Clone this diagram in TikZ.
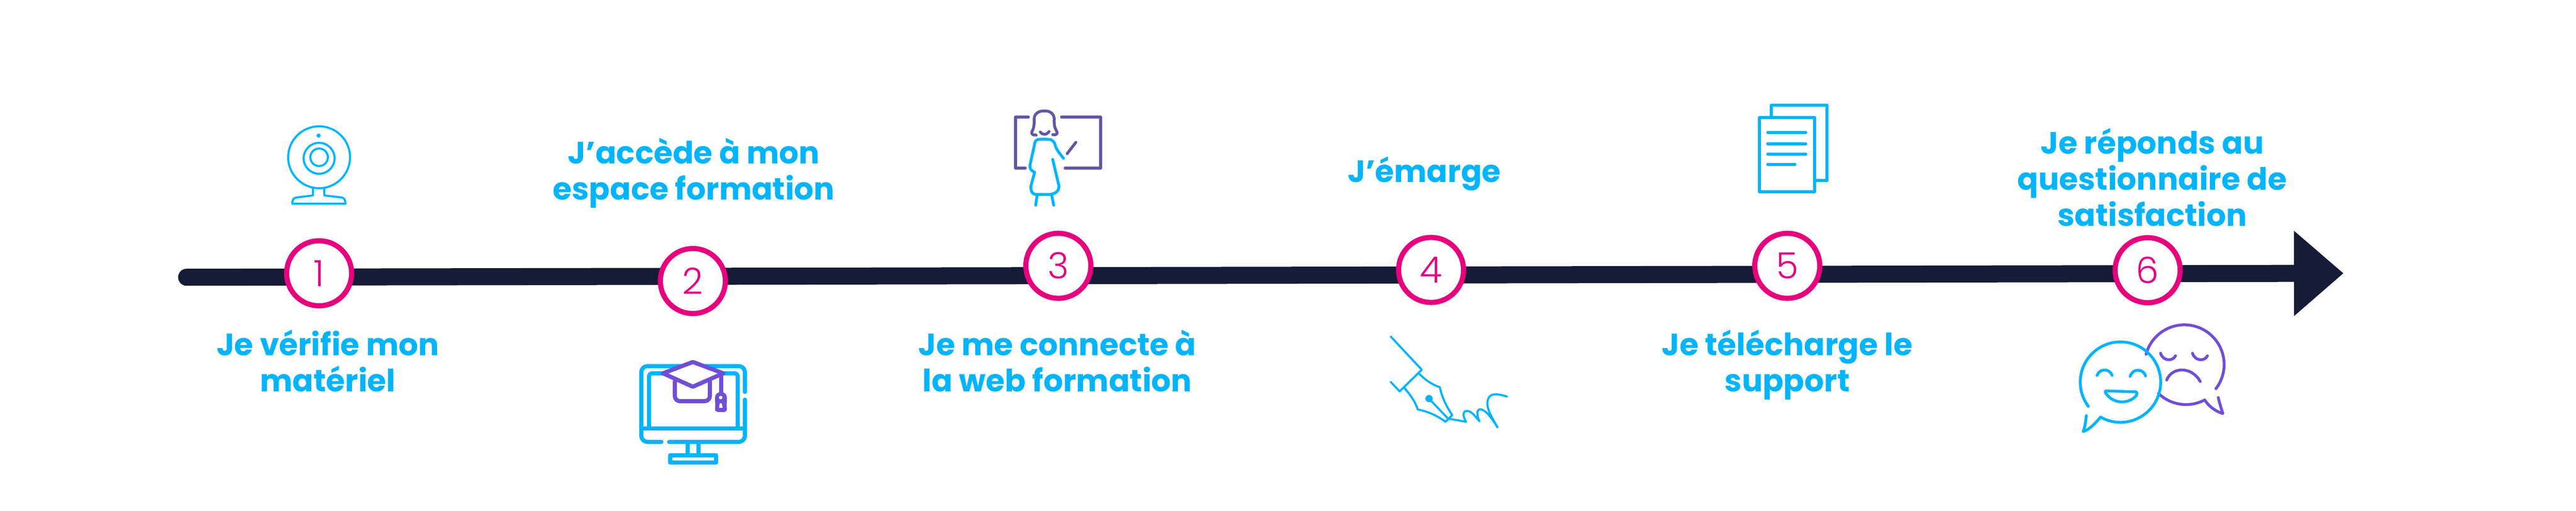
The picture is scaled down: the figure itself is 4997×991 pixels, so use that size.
\documentclass[tikz,border=0pt]{standalone}
\usepackage{fontspec}
\setmainfont{Poppins}
\newfontfamily\digitfont{Poppins Light}
\usepackage{xcolor}
\usetikzlibrary{arrows.meta}
\definecolor{skyblue}{RGB}{0,180,255}
\definecolor{rosepink}{RGB}{230,0,126}
\definecolor{darknavy}{RGB}{22,27,54}
\definecolor{capviolet}{RGB}{112,78,214}
\definecolor{boardviolet}{RGB}{100,85,163}
\tikzset{%
    stepcircle/.style={%
        circle, draw=rosepink, line width=0.1cm, fill=white,
        minimum size=1.26cm, inner sep=0pt,
        text=rosepink, font=\digitfont\fontsize{20}{20}\selectfont
    },
    steplabel/.style={%
        anchor=base, align=center, inner sep=0pt, text=skyblue,
        font=\bfseries\fontsize{17}{19.9}\selectfont
    },
    iconline/.style={%
        draw=skyblue, line width=0.055cm, line cap=round, line join=round
    }
}

\begin{document}
\begin{tikzpicture}[x=0.01cm,y=-0.01cm]
    \useasboundingbox (0,0) rectangle (4997,991);
    % timeline
    \coordinate (start) at (362,537.7);
    \coordinate (tip) at (4546,530);
    \draw[darknavy, line width=0.33cm, line cap=round,
        -{Triangle[length=0.96cm,width=1.59cm]}] (start) -- (tip);
    \foreach \n/\x/\y in {1/619/530,2/1344/545,3/2053/515.5,4/2776/523.5,5/3467/515.5,6/4166/524}
    {
    \node[stepcircle] (step\n) at (\x,\y) {\n};
    }
    % labels
    \node[steplabel] (label1) at (636,759) {Je vérifie mon\\matériel};
    \node[steplabel] (label2) at (1346,387) {J’accède à mon\\espace formation};
    \node[steplabel] (label3) at (2051,759) {Je me connecte à\\la web formation};
    \node[steplabel] (label4) at (2763,353) {J’émarge};
    \node[steplabel] (label5) at (3467,759) {Je télécharge le\\support};
    \node[steplabel] (label6) at (4175,438) {Je réponds au\\questionnaire de\\satisfaction};
    % webcam
    \draw[iconline, line width=0.04cm] (619,305) circle (60);
    \draw[iconline, line width=0.04cm] (619,307) circle (30);
    \draw[iconline, line width=0.04cm] (619,305) circle (17);
    \fill[skyblue] (618,263) circle (4);
    \draw[iconline, line width=0.04cm] (607,366) -- (607,379) -- (575,383) .. controls (569,384) and (567,388) .. (567,395)
        -- (670,395) .. controls (670,388) and (668,384) .. (663,383) -- (629,379) -- (629,366);
    % monitor
    \begin{scope}[iconline, line width=0.08cm]
    \draw (1445,760) -- (1445,722) arc[start angle=0,delta angle=-90,radius=12] -- (1256,710) arc[start angle=270,delta angle=-90,radius=12]
        -- (1244,845) arc[start angle=180,delta angle=-90,radius=12] -- (1283,857);
    \draw (1298,857) -- (1433,857) arc[start angle=90,delta angle=-90,radius=12] -- (1445,775);
    \draw (1244,831) -- (1445,831);
    \draw (1259,831) -- (1259,730) arc[start angle=180,delta angle=90,radius=6] -- (1425,724) arc[start angle=270,delta angle=90,radius=6] -- (1431,831);
    \draw (1334,857) -- (1334,883);
    \draw (1355,857) -- (1355,883);
    \draw (1300,883) rectangle (1389,897);
    \end{scope}
    \begin{scope}[iconline, draw=capviolet, line width=0.08cm]
    \draw[fill=white] (1344,702) -- (1403,724) -- (1344,750) -- (1286,724) -- cycle;
    \draw (1309,740) -- (1309,768) arc[start angle=180,delta angle=-90,radius=10] -- (1367,778) arc[start angle=90,delta angle=-90,radius=10] -- (1377,740);
    \draw (1399,728) -- (1399,760);
    \end{scope}
    \fill[capviolet, even odd rule] (1399,760) .. controls (1405,760) and (1410,765) .. (1410,771) .. controls (1410,778) and (1409,785) .. (1410,793)
        .. controls (1410,797) and (1408,799) .. (1405,799) -- (1393,799) .. controls (1390,799) and (1387,797) .. (1387,793)
        .. controls (1388,785) and (1387,778) .. (1387,771) .. controls (1387,765) and (1392,760) .. (1399,760)
        (1398,771) circle (3.5)
        (1395,791) -- (1402,791) -- (1400,782) -- (1396,782) -- cycle;
    % teacher
    \begin{scope}[iconline, draw=boardviolet]
    \draw (1995,227) -- (1970,227) -- (1970,326) -- (1989,326);
    \draw (2059,227) -- (2135,227) -- (2135,326) -- (2066,326);
    \draw (2010,262) .. controls (2004,263) and (1999,259) .. (2002,255) .. controls (2007,245) and (2006,238) .. (2006,230)
        .. controls (2007,220) and (2015,215) .. (2026,215) .. controls (2037,215) and (2044,220) .. (2045,230)
        .. controls (2045,238) and (2044,245) .. (2050,255) .. controls (2053,259) and (2048,263) .. (2042,261);
    \draw (2018,256) .. controls (2021,262) and (2031,262) .. (2035,255);
    \draw (2087,276) -- (2070,298);
    \end{scope}
    \draw[iconline] (2063,307) .. controls (2055,297) and (2049,290) .. (2047,282) .. controls (2045,273) and (2040,270) .. (2030,270)
        -- (2017,270) .. controls (2010,270) and (2007,274) .. (2006,284) -- (1998,320) .. controls (1997,327) and (2000,331) .. (2007,334)
        -- (2000,360) .. controls (1999,369) and (2001,376) .. (2009,377) -- (2038,377) .. controls (2049,375) and (2055,369) .. (2054,360) -- (2042,309);
    \draw[iconline] (2012,378) -- (2009,398);
    \draw[iconline] (2040,378) -- (2044,398);
    % pen
    \begin{scope}[iconline, line width=0.04cm]
    \draw (2698,653) -- (2758,717) -- (2715,759) -- (2698,741);
    \draw (2752,724) .. controls (2765,737) and (2778,746) .. (2793,751) .. controls (2797,770) and (2805,787) .. (2817,805)
        -- (2804,818) .. controls (2788,806) and (2770,798) .. (2750,794) .. controls (2745,778) and (2735,765) .. (2724,752);
    \draw (2772,773) -- (2810,813);
    \draw (2810,812) -- (2844,818) .. controls (2836,805) and (2838,796) .. (2847,797) .. controls (2856,798) and (2864,811) .. (2870,817)
        .. controls (2863,803) and (2865,792) .. (2873,794) .. controls (2885,797) and (2896,815) .. (2905,829)
        .. controls (2895,810) and (2880,790) .. (2887,773) .. controls (2892,760) and (2910,765) .. (2923,769);
    \end{scope}
    \fill[skyblue] (2772,773) circle (7);
    % documents
    \begin{scope}[iconline]
    \draw (3436,226) -- (3436,204) -- (3544,204) -- (3544,350) -- (3522,350);
    \draw (3413,228) rectangle (3520,372);
    \foreach \y/\e in {257/3503,279/3503,299/3503,319/3482}
    {
    \draw (3429,\y) -- (\e,\y);
    }
    \end{scope}
    % faces
    \begin{scope}[iconline, draw=capviolet]
    \draw (4163,687) arc[start angle=195,delta angle=202.5,radius=77];
    \draw (4187,763) arc[start angle=134,delta angle=-72,radius=77] .. controls (4284,787) and (4296,797) .. (4312,802) .. controls (4308,790) and (4305,780) .. (4303,771);
    \draw (4191,685) .. controls (4196,701) and (4215,701) .. (4220,690);
    \draw (4253,685) .. controls (4258,701) and (4277,701) .. (4282,690);
    \draw (4203,737) .. controls (4213,711) and (4252,710) .. (4268,740);
    \end{scope}
    \begin{scope}[iconline]
    \draw (4051,788) arc[start angle=143,delta angle=336.6,radius=78] .. controls (4065,820) and (4055,832) .. (4041,837) .. controls (4045,826) and (4046,816) .. (4047,806);
    \draw (4068,728) .. controls (4073,714) and (4092,714) .. (4097,728);
    \draw (4132,730) .. controls (4137,714) and (4157,714) .. (4162,729);
    \draw (4085,758) -- (4143,760) .. controls (4146,761) and (4146,765) .. (4144,767) .. controls (4130,784) and (4100,784) .. (4086,764) .. controls (4083,761) and (4083,758) .. (4085,758);
    \end{scope}
\end{tikzpicture}
\end{document}
